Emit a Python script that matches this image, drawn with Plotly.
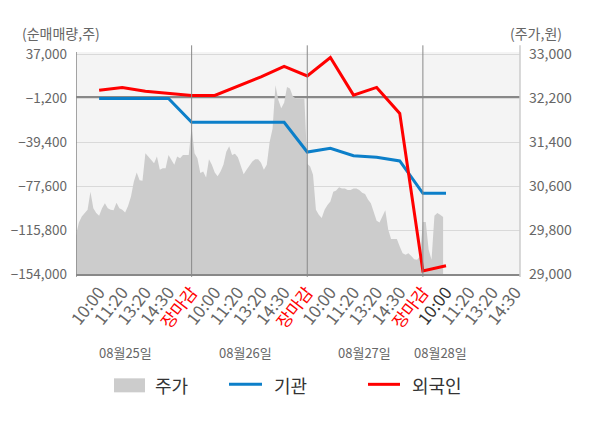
import plotly.graph_objects as go

# 틱 라벨 (하루 5칸, 마지막 날은 14:30까지)
day_ticks = ["10:00", "11:20", "13:20", "14:30", "장마감"]
dates = ["08월25일", "08월26일", "08월27일", "08월28일"]
date_pos = [2.12, 7.31, 12.49, 15.78]

# 기관 / 외국인 순매매량 (틱 위치 1..16)
line_x = list(range(1, 17))
institution = [-1200, -1200, -1200, -1200, -22000, -22000, -22000, -22000,
               -22000, -47800, -44600, -51000, -52400, -55600, -83700, -83700]
foreign = [6000, 8400, 5100, 3200, 1400, 1400, 9400, 17600,
           26800, 18400, 34400, 1700, 8400, -14200, -151400, -146800]

# 주가 (0.125칸 간격 표본)
price = [
    29700, 29940, 30050, 30120, 30170, 30500, 30200, 30110, 30060, 30200,
    30290, 30200, 30170, 30160, 30300, 30200, 30170, 30120, 30240, 30410,
    30680, 30850, 30710, 30700, 31200, 31140, 31080, 31020, 31140, 30900,
    30930, 30930, 31170, 31070, 30990, 31140, 31110, 31170, 31170, 31170,
    31680, 31200, 31110, 30840, 30870, 30760, 31090, 30990, 30850, 30780,
    30870, 30990, 31230, 31330, 31170, 31190, 31130, 30960, 30820, 30900,
    30970, 31050, 31090, 31090, 31030, 30900, 30990, 31410, 31650, 32440,
    32170, 32020, 32120, 32410, 32380, 32240, 32200, 32200, 32200, 32200,
    31010, 30960, 30810, 30170, 30080, 30020, 30170, 30260, 30320, 30500,
    30520, 30580, 30560, 30560, 30530, 30530, 30560, 30560, 30530, 30480,
    30460, 30360, 30290, 30120, 29970, 29940, 30050, 30160, 29810, 29640,
    29640, 29640, 29500, 29380, 29350, 29380, 29330, 29270, 29260, 29320,
    29950, 29950, 29440, 29260, 30060, 30110, 30080, 30040,
]
price_x = [i * 0.125 for i in range(len(price))]

vol_ticks = [37000, -1200, -39400, -77600, -115800, -154000]
price_ticks = [29000, 29800, 30600, 31400, 32200, 33000]

FONT = "Noto Sans CJK KR"
GRAY = "#666666"
RED = "#ff0000"
BLUE = "#0c7fc9"

tickvals, ticktext = [], []
for d in range(4):
    for k, lab in enumerate(day_ticks):
        if d == 3 and k == 4:
            continue
        tickvals.append(d * 5 + k + 1)
        if lab == "장마감":
            ticktext.append(f"<span style='color:{RED}'>{lab}</span>")
        elif d == 3 and k == 0:
            ticktext.append(f"<span style='color:#333333'>{lab}</span>")
        else:
            ticktext.append(lab)

fig = go.Figure()
fig.add_trace(go.Scatter(x=price_x, y=price, yaxis="y", fill="tozeroy",
                         fillcolor="#cccccc", line=dict(width=0, color="#cccccc"),
                         mode="lines", hoverinfo="skip"))
fig.add_trace(go.Scatter(x=line_x, y=institution, yaxis="y2", mode="lines",
                         line=dict(color=BLUE, width=3)))
fig.add_trace(go.Scatter(x=line_x, y=foreign, yaxis="y2", mode="lines",
                         line=dict(color=RED, width=3)))

shapes = []
for xv in [5, 10, 15]:
    shapes.append(dict(type="line", xref="x", yref="paper", x0=xv, x1=xv,
                       y0=-0.013, y1=1.03, line=dict(color="#888888", width=1),
                       layer="above"))
shapes.append(dict(type="line", xref="x", yref="paper", x0=0, x1=0,
                   y0=-0.013, y1=1, line=dict(color="#888888", width=1.5),
                   layer="above"))
shapes.append(dict(type="line", xref="paper", yref="paper", x0=1, x1=1,
                   y0=-0.013, y1=1.03, line=dict(color="#cccccc", width=1.5),
                   layer="above"))

# 범례 (수동)
shapes.append(dict(type="rect", xref="paper", yref="paper", x0=0.0856, x1=0.1554,
                   y0=-0.533, y1=-0.470, fillcolor="#cccccc", line=dict(width=0)))
shapes.append(dict(type="line", xref="paper", yref="paper", x0=0.3446, x1=0.4189,
                   y0=-0.497, y1=-0.497, line=dict(color=BLUE, width=3)))
shapes.append(dict(type="line", xref="paper", yref="paper", x0=0.6577, x1=0.7297,
                   y0=-0.497, y1=-0.497, line=dict(color=RED, width=3)))

annotations = [
    dict(text="(순매매량,주)", xref="paper", yref="paper", x=-0.034, y=1.084,
         xanchor="center", yanchor="middle", showarrow=False,
         font=dict(size=14, color=GRAY)),
    dict(text="(주가,원)", xref="paper", yref="paper", x=1.035, y=1.084,
         xanchor="center", yanchor="middle", showarrow=False,
         font=dict(size=14, color=GRAY)),
]
for lab, xp in zip(dates, date_pos):
    annotations.append(dict(text=lab, xref="x", yref="paper", x=xp, y=-0.354,
                            xanchor="center", yanchor="middle", showarrow=False,
                            font=dict(size=13, color=GRAY)))
for lab, xp in [("주가", 0.1734), ("기관", 0.4414), ("외국인", 0.7523)]:
    annotations.append(dict(text=lab, xref="paper", yref="paper", x=xp, y=-0.502,
                            xanchor="left", yanchor="middle", showarrow=False,
                            font=dict(size=18, color="#333333")))

# 페이지 여백(8px)을 감안해 그림 크기를 줄임
fig.update_layout(
    width=592, height=420,
    margin=dict(l=68, r=80, t=44, b=154),
    paper_bgcolor="white", plot_bgcolor="#f4f4f4",
    font=dict(family=FONT, color=GRAY),
    showlegend=False,
    xaxis=dict(range=[0, 19.2], tickvals=tickvals, ticktext=ticktext,
               tickangle=-52, tickfont=dict(size=17, color=GRAY),
               showgrid=False, zeroline=False, showline=True,
               linecolor="#888888", linewidth=1.5, ticks="",
               automargin=False),
    yaxis=dict(side="right", range=[29000, 33047], tickvals=price_ticks,
               tickformat=",d", tickfont=dict(size=14, color=GRAY),
               showgrid=True, gridcolor="#d9d9d9", gridwidth=1,
               zeroline=False, showline=False, ticks="", ticklabelstandoff=8,
               automargin=False),
    yaxis2=dict(overlaying="y", side="left", range=[-154000, 39260],
                tickvals=vol_ticks, tickformat=",d",
                tickfont=dict(size=13.5, color=GRAY),
                showgrid=False, zeroline=True, zerolinecolor="#888888",
                zerolinewidth=1.5, showline=False, ticks="",
                ticklabelstandoff=8, automargin=False),
    shapes=shapes,
    annotations=annotations,
)

fig.write_html("out.html")
